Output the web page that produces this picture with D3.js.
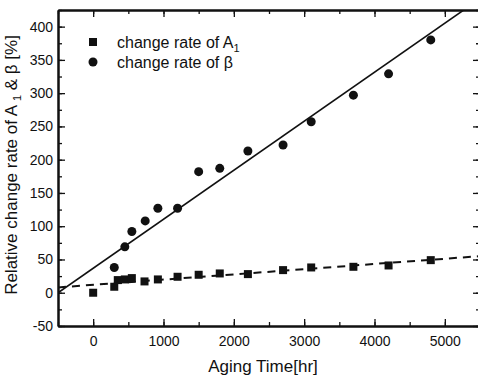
<!DOCTYPE html>
<html>
<head>
<meta charset="utf-8">
<script src="https://cdn.jsdelivr.net/npm/d3@7"></script>
<style>
  body { margin: 0; background: #fff; }
  text { font-family: "Liberation Sans", Arial, sans-serif; fill: #111; }
</style>
</head>
<body>
<svg id="chart"></svg>
<script>
// aging time [hr] and relative change rates [%]
var hoursA = [0, 300, 350, 450, 550, 730, 920, 1200, 1500, 1800, 2200, 2700, 3100, 3700, 4200, 4800];
var rateA = [0, 9, 19, 20, 22, 17, 20, 24, 27, 29, 28, 34, 38, 39, 41, 49];

var hoursB = [300, 450, 550, 740, 920, 1200, 1500, 1800, 2200, 2700, 3100, 3700, 4200, 4800];
var rateB = [38, 69, 92, 108, 127, 127, 182, 187, 213, 222, 257, 297, 329, 380];

// fitted lines, endpoints
var fitHours = [-500, 5500];
var fitB = [0, 442];
var fitA = [8, 55];

var xTicks = [0, 1000, 2000, 3000, 4000, 5000];
var yTicks = [-50, 0, 50, 100, 150, 200, 250, 300, 350, 400];

var margin = { top: 10, right: -2, bottom: 50, left: 58 },
  width = 478 - margin.left - margin.right,
  height = 376 - margin.top - margin.bottom;

var svg = d3.select("#chart")
  .attr("width", 478)
  .attr("height", 376)
  .append("g")
  .attr("transform", "translate(" + margin.left + "," + margin.top + ")");

var x = d3.scaleLinear().domain([-500, 5500]).range([0, width]);
var y = d3.scaleLinear().domain([-50, 425]).range([height, 0]);

svg.append("clipPath").attr("id", "clip")
  .append("rect").attr("width", width).attr("height", height);

// axes, ticks pointing inward on all four sides
var minorX = d3.range(-500, 5501, 500);
var minorY = d3.range(-50, 426, 25);
var plain = function (d) { return String(d); };

function frame(axis, ticks, size, labels) {
  return axis.tickValues(ticks).tickSizeInner(-size).tickSizeOuter(0)
    .tickFormat(labels ? plain : "");
}

svg.append("g").attr("class", "minor")
  .attr("transform", "translate(0," + height + ")")
  .call(frame(d3.axisBottom(x), minorX, 4, false));
svg.append("g").attr("class", "major bottom")
  .attr("transform", "translate(0," + height + ")")
  .call(frame(d3.axisBottom(x), xTicks, 7, true));
svg.append("g").attr("class", "minor")
  .call(frame(d3.axisTop(x), minorX, 4, false));
svg.append("g").attr("class", "major")
  .call(frame(d3.axisTop(x), xTicks, 7, false));

svg.append("g").attr("class", "minor")
  .call(frame(d3.axisLeft(y), minorY, 4, false));
svg.append("g").attr("class", "major left")
  .call(frame(d3.axisLeft(y), yTicks, 7, true));
svg.append("g").attr("class", "minor")
  .attr("transform", "translate(" + width + ",0)")
  .call(frame(d3.axisRight(y), minorY, 4, false));
svg.append("g").attr("class", "major")
  .attr("transform", "translate(" + width + ",0)")
  .call(frame(d3.axisRight(y), yTicks, 7, false));

svg.selectAll(".domain").attr("stroke", "#111").attr("stroke-width", 2);
svg.selectAll(".tick line").attr("stroke", "#111").attr("stroke-width", 1.3);
svg.selectAll(".bottom .tick text").attr("y", 10).style("font-size", "14px");
svg.selectAll(".left .tick text").attr("x", -5).style("font-size", "14px");

// fit lines
var plot = svg.append("g").attr("clip-path", "url(#clip)");
var line = d3.line()
  .x(function (d) { return x(d[0]); })
  .y(function (d) { return y(d[1]); });

plot.append("path")
  .attr("d", line(d3.zip(fitHours, fitB)))
  .attr("fill", "none").attr("stroke", "#111").attr("stroke-width", 1.6);
plot.append("path")
  .attr("d", line(d3.zip(fitHours, fitA)))
  .attr("fill", "none").attr("stroke", "#111").attr("stroke-width", 2)
  .attr("stroke-dasharray", "8,6");

// markers
plot.selectAll(".sq")
  .data(d3.zip(hoursA, rateA))
  .enter().append("rect")
  .attr("class", "sq")
  .attr("x", function (d) { return x(d[0]) - 4; })
  .attr("y", function (d) { return y(d[1]) - 4; })
  .attr("width", 8).attr("height", 8)
  .attr("fill", "#111");

plot.selectAll(".dot")
  .data(d3.zip(hoursB, rateB))
  .enter().append("circle")
  .attr("class", "dot")
  .attr("cx", function (d) { return x(d[0]); })
  .attr("cy", function (d) { return y(d[1]); })
  .attr("r", 4.5)
  .attr("fill", "#111");

// legend
var legend = svg.append("g").attr("transform", "translate(35,32)");
legend.append("rect").attr("x", -4).attr("y", -4).attr("width", 8).attr("height", 8).attr("fill", "#111");
legend.append("circle").attr("cy", 20).attr("r", 4.5).attr("fill", "#111");
var la = legend.append("text").attr("x", 24).attr("y", 6).style("font-size", "16px");
la.append("tspan").text("change rate of A");
la.append("tspan").attr("dy", 4).style("font-size", "11px").text("1");
legend.append("text").attr("x", 24).attr("y", 26).style("font-size", "16px")
  .text("change rate of  \u03b2");

// axis titles
svg.append("text")
  .attr("x", width / 2 - 6)
  .attr("y", height + 46)
  .attr("text-anchor", "middle")
  .style("font-size", "17px")
  .text("Aging Time[hr]");

var yt = svg.append("text")
  .attr("transform", "rotate(-90)")
  .attr("x", -155)
  .attr("y", -41)
  .attr("text-anchor", "middle")
  .style("font-size", "17px");
yt.append("tspan").text("Relative change rate of A ");
yt.append("tspan").attr("dy", 4).style("font-size", "11px").text("1");
yt.append("tspan").attr("dy", -4).text(" & \u03b2 [%]");
</script>
</body>
</html>
